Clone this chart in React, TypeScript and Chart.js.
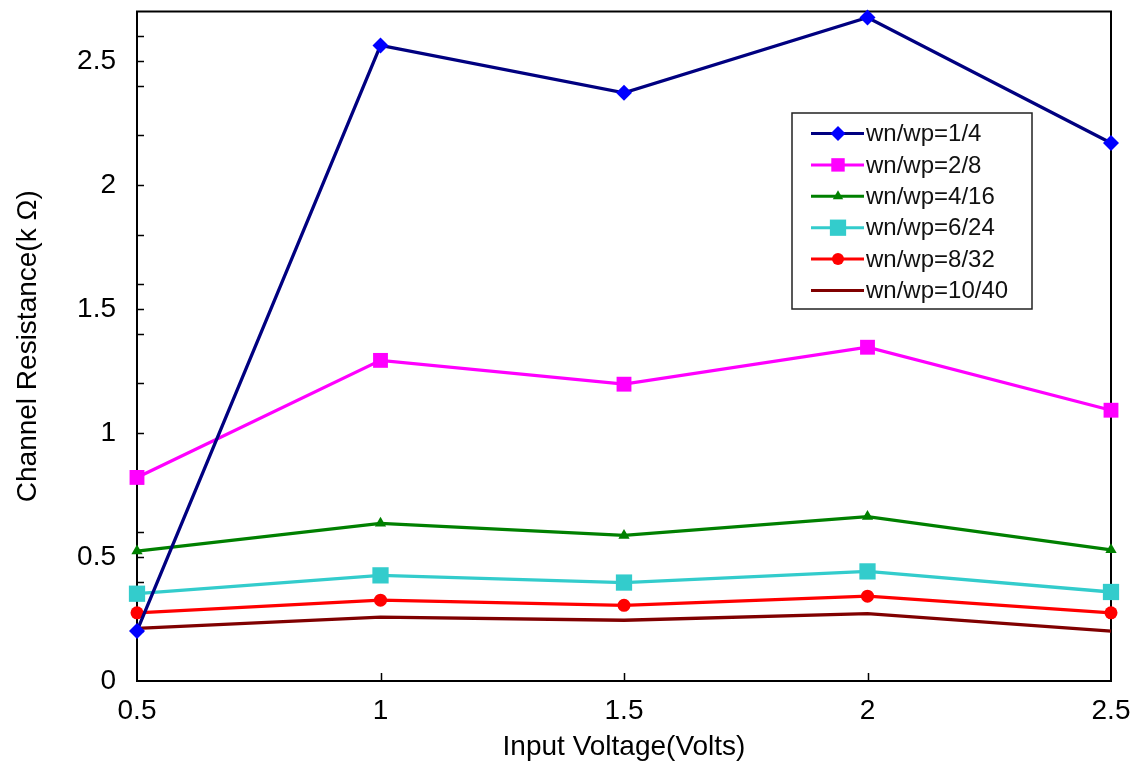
import React, { useEffect, useRef } from "react";
import { Chart, registerables } from "chart.js";
import { drawPoint } from "chart.js/helpers";

Chart.register(...registerables);

// ---- data ----
const X_VALUES = [0.5, 1, 1.5, 2, 2.5];
const SERIES_NAMES = [
  "wn/wp=1/4",
  "wn/wp=2/8",
  "wn/wp=4/16",
  "wn/wp=6/24",
  "wn/wp=8/32",
  "wn/wp=10/40",
];
const R_1_4 = [0.202, 2.563, 2.372, 2.676, 2.17];
const R_2_8 = [0.821, 1.293, 1.197, 1.346, 1.092];
const R_4_16 = [0.524, 0.636, 0.587, 0.663, 0.529];
const R_6_24 = [0.352, 0.426, 0.397, 0.442, 0.359];
const R_8_32 = [0.275, 0.326, 0.305, 0.342, 0.275];
const R_10_40 = [0.212, 0.258, 0.245, 0.272, 0.201];
const Y_TICKS = [0, 0.2, 0.4, 0.5, 0.6, 0.8, 1, 1.2, 1.4, 1.5, 1.6, 1.8, 2, 2.2, 2.4, 2.5, 2.6];
const Y_LABELED = [0, 0.5, 1, 1.5, 2, 2.5];
const X_TICKS = [0.5, 1, 1.5, 2, 2.5];
const X_TITLE = "Input Voltage(Volts)";
const Y_TITLE = "Channel Resistance(k Ω)";

const FONT = "'Liberation Sans', Arial, Helvetica, sans-serif";

const toPoints = (vals: number[]) => vals.map((v, i) => ({ x: X_VALUES[i], y: v }));

const frameTicksPlugin = {
  id: "frameTicks",
  beforeDatasetsDraw(chart: any) {
    const { ctx, chartArea, scales } = chart;
    const { left, right, top, bottom } = chartArea;
    ctx.save();
    ctx.strokeStyle = "#000";
    ctx.lineWidth = 1.5;
    ctx.beginPath();
    Y_TICKS.forEach((v) => {
      if (v <= 0) return;
      const py = Math.round(scales.y.getPixelForValue(v)) + 0.5;
      ctx.moveTo(left, py);
      ctx.lineTo(left + 7, py);
    });
    X_TICKS.forEach((v) => {
      const px = Math.round(scales.x.getPixelForValue(v)) + 0.5;
      if (px <= left + 1 || px >= right - 1) return;
      ctx.moveTo(px, bottom);
      ctx.lineTo(px, bottom - 8);
    });
    ctx.stroke();
    ctx.lineWidth = 2;
    ctx.strokeRect(left, top, right - left, bottom - top);
    ctx.restore();
  },
};

const boxLegendPlugin = {
  id: "boxLegend",
  afterDatasetsDraw(chart: any) {
    const { ctx } = chart;
    const bx = 792;
    const by = 113;
    const bw = 240;
    const bh = 196;
    ctx.save();
    ctx.fillStyle = "#ffffff";
    ctx.fillRect(bx, by, bw, bh);
    ctx.strokeStyle = "#222";
    ctx.lineWidth = 1.5;
    ctx.strokeRect(bx, by, bw, bh);
    chart.data.datasets.forEach((ds: any, i: number) => {
      const y = by + 20.5 + i * 31.4;
      ctx.strokeStyle = ds.borderColor;
      ctx.lineWidth = 3;
      ctx.beginPath();
      ctx.moveTo(811, y);
      ctx.lineTo(864, y);
      ctx.stroke();
      if (ds.pointRadius > 0) {
        ctx.fillStyle = ds.pointBackgroundColor;
        drawPoint(
          ctx,
          { pointStyle: ds.pointStyle, radius: ds.legendRadius, borderWidth: 0, rotation: 0 } as any,
          838,
          y
        );
      }
      ctx.fillStyle = "#111";
      ctx.font = `24px ${FONT}`;
      ctx.textAlign = "left";
      ctx.textBaseline = "middle";
      ctx.fillText(ds.label, 866, y + 1);
    });
    ctx.restore();
  },
};

export default function App() {
  const canvasRef = useRef<HTMLCanvasElement | null>(null);

  useEffect(() => {
    const canvas = canvasRef.current;
    if (!canvas) return;
    const common = { borderWidth: 3.3, pointBorderWidth: 0, clip: false as any, tension: 0 };
    const chart = new Chart(canvas, {
      type: "line",
      data: {
        datasets: [
          {
            ...common,
            label: SERIES_NAMES[0],
            data: toPoints(R_1_4),
            borderColor: "#000080",
            pointBackgroundColor: "#0000ff",
            pointBorderColor: "#0000ff",
            pointStyle: "rectRot",
            pointRadius: 8,
            legendRadius: 7.5,
          } as any,
          {
            ...common,
            label: SERIES_NAMES[1],
            data: toPoints(R_2_8),
            borderColor: "#ff00ff",
            pointBackgroundColor: "#ff00ff",
            pointBorderColor: "#ff00ff",
            pointStyle: "rect",
            pointRadius: 10.5,
            legendRadius: 9.5,
          } as any,
          {
            ...common,
            label: SERIES_NAMES[2],
            data: toPoints(R_4_16),
            borderColor: "#008000",
            pointBackgroundColor: "#008000",
            pointBorderColor: "#008000",
            pointStyle: "triangle",
            pointRadius: 6.5,
            legendRadius: 6,
          } as any,
          {
            ...common,
            label: SERIES_NAMES[3],
            data: toPoints(R_6_24),
            borderColor: "#33cccc",
            pointBackgroundColor: "#33cccc",
            pointBorderColor: "#33cccc",
            pointStyle: "rect",
            pointRadius: 11.5,
            legendRadius: 11.5,
          } as any,
          {
            ...common,
            label: SERIES_NAMES[4],
            data: toPoints(R_8_32),
            borderColor: "#ff0000",
            pointBackgroundColor: "#ff0000",
            pointBorderColor: "#ff0000",
            pointStyle: "circle",
            pointRadius: 6.5,
            legendRadius: 6,
          } as any,
          {
            ...common,
            label: SERIES_NAMES[5],
            data: toPoints(R_10_40),
            borderColor: "#800000",
            pointBackgroundColor: "#800000",
            pointBorderColor: "#800000",
            pointRadius: 0,
            legendRadius: 0,
          } as any,
        ],
      },
      options: {
        animation: false,
        responsive: false,
        maintainAspectRatio: false,
        layout: { padding: { top: 11, right: 20, left: 0, bottom: 0 } },
        plugins: {
          legend: { display: false },
          tooltip: { enabled: false },
        },
        scales: {
          x: {
            type: "linear",
            min: 0.5,
            max: 2.5,
            afterBuildTicks: (scale: any) => {
              scale.ticks = X_TICKS.map((v) => ({ value: v }));
            },
            afterFit: (scale: any) => {
              scale.height = 86;
              scale.paddingLeft = 0;
              scale.paddingRight = 0;
              scale.paddingTop = 0;
              scale.paddingBottom = 0;
            },
            grid: { display: false, drawTicks: false },
            border: { display: false },
            ticks: {
              padding: 13,
              color: "#000",
              font: { family: FONT, size: 28 },
              maxRotation: 0,
              callback: (v: any) => String(v),
            },
            title: {
              display: true,
              text: X_TITLE,
              color: "#000",
              font: { family: FONT, size: 28 },
              padding: { top: 0, bottom: 3 },
            },
          },
          y: {
            type: "linear",
            min: 0,
            max: 2.7,
            afterBuildTicks: (scale: any) => {
              scale.ticks = Y_TICKS.map((v) => ({ value: v }));
            },
            afterFit: (scale: any) => {
              scale.width = 137;
              scale.paddingLeft = 0;
              scale.paddingRight = 0;
              scale.paddingTop = 0;
              scale.paddingBottom = 0;
            },
            grid: { display: false, drawTicks: false },
            border: { display: false },
            ticks: {
              padding: 21,
              color: "#000",
              font: { family: FONT, size: 28 },
              autoSkip: false,
              callback: (v: any) => (Y_LABELED.some((l) => Math.abs(l - v) < 1e-6) ? String(v) : ""),
            },
            title: {
              display: true,
              text: Y_TITLE,
              color: "#000",
              font: { family: FONT, size: 28 },
              padding: { top: 11, bottom: 0 },
            },
          },
        },
      } as any,
      plugins: [frameTicksPlugin, boxLegendPlugin],
    });
    return () => chart.destroy();
  }, []);

  return (
    <div style={{ position: "absolute", left: 0, top: 0, width: 1131, height: 767, background: "#fff" }}>
      <canvas ref={canvasRef} width={1131} height={767} style={{ display: "block" }} />
    </div>
  );
}
